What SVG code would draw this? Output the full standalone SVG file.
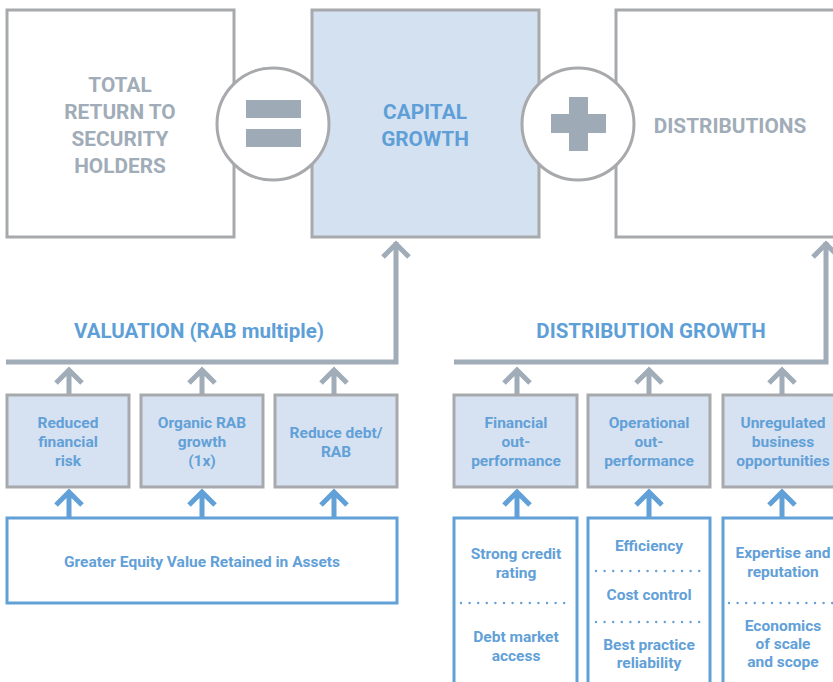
<svg xmlns="http://www.w3.org/2000/svg" width="833" height="682" viewBox="0 0 833 682">
<style>
.big{fill:#fff;stroke:#a7a9ac;stroke-width:3}
.cap{fill:#d4e1f1;stroke:#a7a9ac;stroke-width:3}
.sm{fill:#d6e2f1;stroke:#a7a9ac;stroke-width:3}
.bb{fill:#fff;stroke:#62a0d8;stroke-width:3}
.circ{fill:#fff;stroke:#a7a9ac;stroke-width:3}
.sym{fill:#9eaab5}
.tg{font-family:Roboto,"Liberation Sans",sans-serif;font-weight:700;font-size:20.8px;fill:#a0acb7;text-anchor:middle}
.tb{font-family:Roboto,"Liberation Sans",sans-serif;font-weight:700;font-size:20.8px;fill:#5e9fd8;text-anchor:middle}
.hd{font-family:Roboto,"Liberation Sans",sans-serif;font-weight:700;font-size:20.5px;fill:#5e9fd8;text-anchor:middle}
.t{font-family:Roboto,"Liberation Sans",sans-serif;font-weight:700;font-size:15.5px;fill:#62a0d8;text-anchor:middle}
.gl{fill:none;stroke:#a0acb7;stroke-width:5}
.bl{fill:none;stroke:#62a0d8;stroke-width:5}
.dot{fill:none;stroke:#62a0d8;stroke-width:2.4;stroke-linecap:round;stroke-dasharray:0 8.6}
</style>
<g id="total"><rect class="big" x="7" y="10" width="227" height="227"/>
<text class="tg" x="120" y="92">TOTAL</text><text class="tg" x="120" y="119">RETURN TO</text><text class="tg" x="120" y="146">SECURITY</text><text class="tg" x="120" y="173">HOLDERS</text></g>
<g id="capital"><rect class="cap" x="312" y="10" width="227" height="227"/>
<text class="tb" x="425" y="119">CAPITAL</text><text class="tb" x="425" y="146">GROWTH</text></g>
<g id="distributions"><rect class="big" x="616" y="10" width="240" height="227"/>
<text class="tg" x="730" y="133">DISTRIBUTIONS</text></g>
<g id="equals"><circle class="circ" cx="273" cy="124" r="56"/><rect class="sym" x="246" y="100" width="55" height="18"/><rect class="sym" x="246" y="129" width="55" height="18"/></g>
<g id="plus"><circle class="circ" cx="578" cy="124" r="56"/><rect class="sym" x="569" y="97" width="19" height="54"/><rect class="sym" x="551" y="114" width="55" height="19"/></g>
<g id="connectors">
<path class="gl" d="M6,362 H396 V242"/><path class="gl" d="M383,257 L396,244 L409,257"/>
<path class="gl" d="M454,362 H826 V242"/><path class="gl" d="M813,257 L826,244 L839,257"/>
<path class="gl" d="M69,395 V370 M56,383 L69,370 L82,383"/>
<path class="gl" d="M202,395 V370 M189,383 L202,370 L215,383"/>
<path class="gl" d="M334,395 V370 M321,383 L334,370 L347,383"/>
<path class="gl" d="M517,395 V370 M504,383 L517,370 L530,383"/>
<path class="gl" d="M649,395 V370 M636,383 L649,370 L662,383"/>
<path class="gl" d="M782,395 V370 M769,383 L782,370 L795,383"/>
<path class="bl" d="M69,518 V492 M56,505 L69,492 L82,505"/>
<path class="bl" d="M202,518 V492 M189,505 L202,492 L215,505"/>
<path class="bl" d="M334,518 V492 M321,505 L334,492 L347,505"/>
<path class="bl" d="M517,518 V492 M504,505 L517,492 L530,505"/>
<path class="bl" d="M649,518 V492 M636,505 L649,492 L662,505"/>
<path class="bl" d="M782,518 V492 M769,505 L782,492 L795,505"/>
</g>
<text class="hd" x="199" y="338">VALUATION (RAB multiple)</text>
<text class="hd" x="651" y="338">DISTRIBUTION GROWTH</text>
<g id="reduced"><rect class="sm" x="7" y="395" width="122" height="92"/><text class="t" x="68" y="428">Reduced</text><text class="t" x="68" y="447">financial</text><text class="t" x="68" y="466">risk</text></g>
<g id="organic"><rect class="sm" x="141" y="395" width="122" height="92"/><text class="t" x="202" y="428">Organic RAB</text><text class="t" x="202" y="447">growth</text><text class="t" x="202" y="466">(1x)</text></g>
<g id="reducedebt"><rect class="sm" x="275" y="395" width="122" height="92"/><text class="t" x="336" y="438">Reduce debt/</text><text class="t" x="336" y="457">RAB</text></g>
<g id="financial"><rect class="sm" x="454" y="395" width="123" height="92"/><text class="t" x="516" y="428">Financial</text><text class="t" x="516" y="447">out-</text><text class="t" x="516" y="466">performance</text></g>
<g id="operational"><rect class="sm" x="588" y="395" width="122" height="92"/><text class="t" x="649" y="428">Operational</text><text class="t" x="649" y="447">out-</text><text class="t" x="649" y="466">performance</text></g>
<g id="unregulated"><rect class="sm" x="723" y="395" width="122" height="92"/><text class="t" x="783" y="428">Unregulated</text><text class="t" x="783" y="447">business</text><text class="t" x="783" y="466">opportunities</text></g>
<g id="equity"><rect class="bb" x="7" y="518" width="390" height="85"/><text class="t" x="202" y="567">Greater Equity Value Retained in Assets</text></g>
<g id="fin-drivers"><rect class="bb" x="454" y="518" width="123" height="180"/>
<text class="t" x="516" y="559">Strong credit</text><text class="t" x="516" y="578">rating</text>
<path class="dot" d="M461,603 H572"/>
<text class="t" x="516" y="642">Debt market</text><text class="t" x="516" y="661">access</text></g>
<g id="op-drivers"><rect class="bb" x="588" y="518" width="122" height="180"/>
<text class="t" x="649" y="551">Efficiency</text>
<path class="dot" d="M596,571 H705"/>
<text class="t" x="649" y="600">Cost control</text>
<path class="dot" d="M596,622 H705"/>
<text class="t" x="649" y="650">Best practice</text><text class="t" x="649" y="668">reliability</text></g>
<g id="unreg-drivers"><rect class="bb" x="723" y="518" width="122" height="180"/>
<text class="t" x="783" y="558">Expertise and</text><text class="t" x="783" y="577">reputation</text>
<path class="dot" d="M729,603 H833"/>
<text class="t" x="783" y="631">Economics</text><text class="t" x="783" y="649">of scale</text><text class="t" x="783" y="667">and scope</text></g>
</svg>
